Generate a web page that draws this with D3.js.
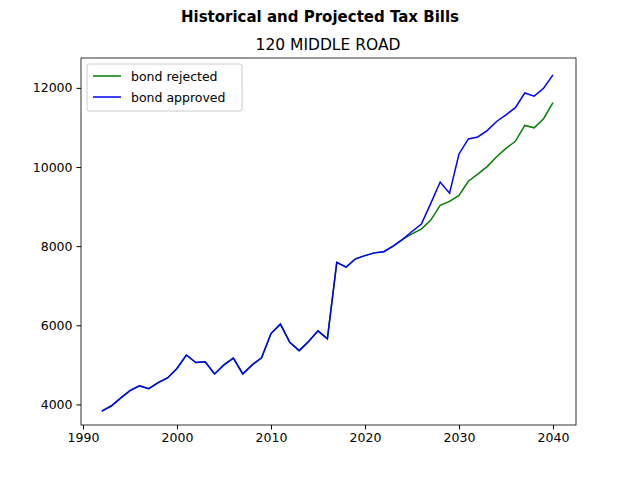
<!DOCTYPE html>
<html><head><meta charset="utf-8">
<script src="https://cdn.jsdelivr.net/npm/d3@7"></script>
<style>body{margin:0;background:#fff}text{font-family:"DejaVu Sans",sans-serif}</style>
</head><body><div id="chart"></div>
<script>
const years = d3.range(1992, 2041);
// values shared by both series through 2024
const common = [3830,3960,4160,4350,4470,4400,4550,4670,4910,5250,5060,5080,4770,5000,5170,4770,5000,5180,5790,6030,5570,5360,5590,5860,5660,7590,7470,7680,7760,7830,7860,8000,8170];
const approvedTail = [8370,8560,9080,9620,9340,10330,10710,10760,10920,11150,11320,11500,11870,11790,11990,12330];
const rejectedTail = [8310,8430,8660,9030,9130,9280,9640,9820,10010,10260,10470,10650,11050,10990,11220,11630];
const approved = common.concat(approvedTail);
const rejected = common.concat(rejectedTail);
const xTicks = [1990,2000,2010,2020,2030,2040];
const yTicks = [4000,6000,8000,10000,12000];

const width = 640, height = 480;
const m = {left: 81, right: 576, top: 58, bottom: 425};

const svg = d3.select("#chart").append("svg").attr("width", width).attr("height", height);

const x = d3.scaleLinear().domain([1989.79, 2042.45]).range([m.left, m.right]);
const y = d3.scaleLinear().domain([3480, 12755]).range([m.bottom, m.top]);

svg.append("text").attr("x", 320).attr("y", 22).attr("text-anchor", "middle")
    .attr("font-size", 15).attr("font-weight", "bold").text("Historical and Projected Tax Bills");
svg.append("text").attr("x", 328).attr("y", 50).attr("text-anchor", "middle")
    .attr("font-size", 15.5).text("120 MIDDLE ROAD");

const xa = svg.append("g").attr("transform", `translate(0,${m.bottom})`)
    .call(d3.axisBottom(x).tickValues(xTicks).tickFormat(d3.format("d")).tickSize(4.5).tickPadding(4));
const ya = svg.append("g").attr("transform", `translate(${m.left},0)`)
    .call(d3.axisLeft(y).tickValues(yTicks).tickFormat(d3.format("d")).tickSize(4.5).tickPadding(4));
[xa, ya].forEach(a => {
    a.select(".domain").remove();
    a.selectAll("text").attr("font-size", 12.5).attr("fill", "#000");
    a.selectAll("line").attr("stroke", "#000");
});
svg.append("rect").attr("x", m.left).attr("y", m.top)
    .attr("width", m.right - m.left).attr("height", m.bottom - m.top)
    .attr("fill", "none").attr("stroke", "#000").attr("stroke-width", 0.8);

const line = d3.line().x((d, i) => x(years[i])).y(d => y(d));
svg.append("path").datum(rejected).attr("d", line).attr("fill", "none").attr("stroke", "green").attr("stroke-width", 1.5);
svg.append("path").datum(approved).attr("d", line).attr("fill", "none").attr("stroke", "blue").attr("stroke-width", 1.5);

// legend
const lg = svg.append("g").attr("transform", "translate(87,64)");
lg.append("rect").attr("width", 155).attr("height", 47).attr("rx", 2)
    .attr("fill", "#fff").attr("fill-opacity", 0.8).attr("stroke", "#ccc");
[["bond rejected", "green"], ["bond approved", "blue"]].forEach(([t, c], i) => {
    const yy = 12 + i * 21;
    lg.append("line").attr("x1", 6).attr("x2", 34).attr("y1", yy).attr("y2", yy).attr("stroke", c).attr("stroke-width", 1.5);
    lg.append("text").attr("x", 44).attr("y", yy + 4.5).attr("font-size", 12.5).text(t);
});
</script></body></html>
